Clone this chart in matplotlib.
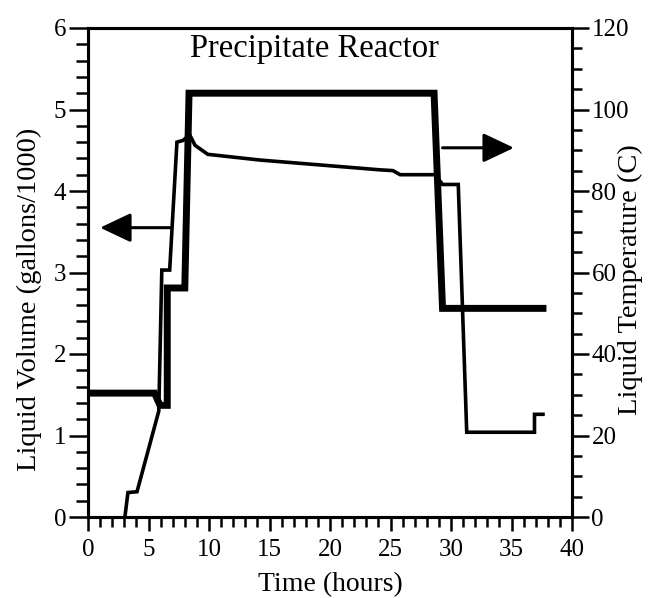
import matplotlib
matplotlib.use("Agg")
import matplotlib.pyplot as plt
from matplotlib.ticker import MultipleLocator

# liquid volume (gallons/1000), thin line, left axis
vol_time = [3.05, 3.3, 4.05, 5.85, 6.1, 6.75, 7.35, 7.85, 8.4, 8.85, 9.9, 14.2,
            24.1, 25.2, 25.8, 28.7, 29.3, 30.6, 31.3, 36.9, 36.9, 37.6]
vol_value = [0.0, 0.3, 0.31, 1.3, 3.03, 3.03, 4.6, 4.62, 4.69, 4.56, 4.45, 4.38,
             4.26, 4.25, 4.2, 4.2, 4.08, 4.08, 1.04, 1.04, 1.26, 1.26]

# liquid temperature (C), thick line, right axis
temp_time = [0.0, 5.5, 5.95, 6.55, 6.55, 8.0, 8.35, 28.6, 29.3, 37.6]
temp_value = [30.4, 30.4, 27.4, 27.4, 56.2, 56.2, 104.0, 104.0, 51.2, 51.2]

# arrows pointing each curve at its axis (time, volume)
left_arrow = [(6.8, 3.55), (1.0, 3.55)]
right_arrow = [(29.3, 4.53), (35.2, 4.53)]

plt.rcParams["font.family"] = ["Liberation Serif", "DejaVu Serif"]

fig = plt.figure(figsize=(6.6, 5.98), dpi=100)
ax = fig.add_axes([88 / 660, 1 - 517 / 598, (572 - 88) / 660, (517 - 28) / 598])
ax2 = ax.twinx()

ax.plot(vol_time, vol_value, color="black", lw=2.6, solid_joinstyle="miter")
ax2.plot(temp_time, temp_value, color="black", lw=5.0, solid_joinstyle="miter")

ax.set_xlim(0, 40)
ax.set_ylim(0, 6)
ax2.set_ylim(0, 120)

ax.xaxis.set_major_locator(MultipleLocator(5))
ax.xaxis.set_minor_locator(MultipleLocator(1))
ax.yaxis.set_major_locator(MultipleLocator(1))
ax.yaxis.set_minor_locator(MultipleLocator(0.2))
ax2.yaxis.set_major_locator(MultipleLocator(20))
ax2.yaxis.set_minor_locator(MultipleLocator(5))

for a in (ax, ax2):
    for s in a.spines.values():
        s.set_linewidth(2.2)

ax.tick_params(axis="x", which="major", direction="out", length=10, width=1.8,
               pad=6, labelsize=18)
ax.tick_params(axis="x", which="minor", direction="out", length=7, width=1.8)
ax.tick_params(axis="y", which="major", direction="out", length=14, width=1.8,
               pad=1.5, labelsize=18)
ax.tick_params(axis="y", which="minor", direction="out", length=8.5, width=1.8)
ax2.tick_params(axis="y", which="major", direction="out", length=12, width=1.8,
                pad=2, labelsize=18)
ax2.tick_params(axis="y", which="minor", direction="out", length=7, width=1.8)

ax.set_xlabel("Time (hours)", fontsize=20)
ax.set_ylabel("Liquid Volume (gallons/1000)", fontsize=20.5)
ax2.set_ylabel("Liquid Temperature (C)", fontsize=20.5, rotation=90)
ax.yaxis.set_label_coords(-0.095, 0.446)
ax2.yaxis.set_label_coords(1.095, 0.485)
ax.xaxis.set_label_coords(0.5, -0.112)

ax.text(0.467, 0.988, "Precipitate Reactor", transform=ax.transAxes,
        ha="center", va="top", fontsize=23.5)

arrow_style = dict(arrowstyle="-|>,head_length=0.95,head_width=0.45",
                   mutation_scale=20, lw=2.2, color="black",
                   shrinkA=0, shrinkB=0)
for tail, tip in (left_arrow, right_arrow):
    ax.annotate("", xy=tip, xytext=tail, arrowprops=arrow_style)

fig.savefig("out.png", dpi=100)
